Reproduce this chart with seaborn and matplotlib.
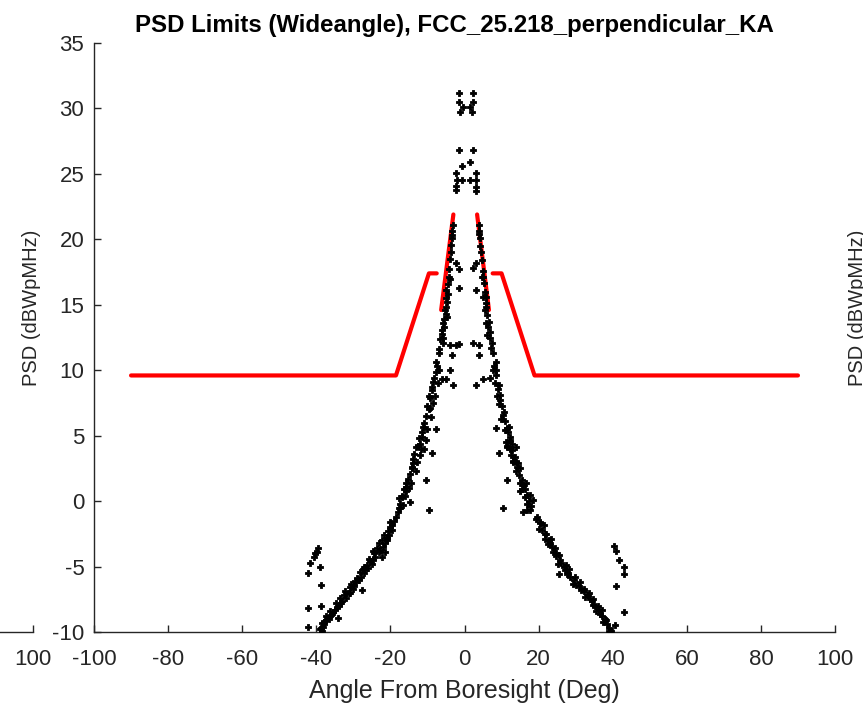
import numpy as np
import pandas as pd
import matplotlib.pyplot as plt
import seaborn as sns

# PSD limit mask (red)
mask_left_x = [-90, -18.5, -9.6, -7.5]
mask_left_y = [9.6, 9.6, 17.4, 17.4]
mask_inner_left_x = [-6.3, -3.0]
mask_inner_left_y = [14.6, 21.9]
mask_inner_right_x = [3.4, 6.6]
mask_inner_right_y = [21.9, 14.6]
mask_right_x = [7.6, 10.0, 18.9, 90]
mask_right_y = [17.4, 17.4, 9.6, 9.6]

# measured PSD points (black)
psd_x = [-1.4, 2.2, -1.6, 2.2, -0.5, 1.6, -1.1, 1.9,
         -1.6, 2.2, -0.8, 1.6, -2.2, 3.0, -1.9, -0.8, 1.6, 3.0, -2.2, 3.0, -2.4, 3.2,
         -3.2, 3.8, -3.3, 3.9, -3.5, 4.1, -3.7, 4.4, -2.4, 3.2, -1.6, 2.4, -4.1, 4.9, -4.3, 5.1,
         -4.9, -1.6, 3.0, -5.1, -4.9, 5.7, 5.9, -4.6, -5.7, -6.2, 6.5, 7.0,
         -5.7, -3.8, -1.6, 2.4, 3.8, 7.3, -7.0, -3.5, 7.8, -7.6, 8.4, -7.8, 8.6, -6.2, 7.0,
         -2.2, 3.8, -3.8, -4.9, -8.4, -3.0, 5.1, 3.2, 9.2, -8.9, -9.2, -9.2, -9.7, 9.7, 10.5,
         -11.1, -7.8, 8.6, 11.4, -11.6, -11.9, -10.3, 12.4, 11.4, -13.0, -8.9, 9.2, 13.2,
         -13.8, -14.3, 14.1, -10.5, 11.4, -15.7, 15.9, -15.9, -17.0, 16.8, -17.3, -14.6,
         -9.7, 10.5, 16.8,
         -15.7, -17.8, -18.6, -20.0, -19.7, 11.9, 11.1, 12.7, 13.8, 13.8, 15.1, 16.5, 15.1,
         18.6, 17.8, 15.9, 19.5, 20.5, -14.3,
         -20.5, -21.4, -24.1, -22.4, -26.8, -29.2, -27.8, -30.8, -33.2, -34.1, -35.4, -37.3,
         -38.1, -38.5, -21.0, -22.0, -23.0, -25.0, -26.0, -28.0, -29.8, -32.0, -34.5, -36.0,
         -37.8, -39.0,
         -39.5, -40.3, -41.6, -38.9, -42.2, -38.6, -42.2, -38.6, -42.2, -39.8, -40.7,
         21.4, 22.7, 24.6, 26.8, 29.5, 32.2, 34.3, 36.2, 38.1, 38.9, 25.4, 22.0, 23.5, 25.8,
         28.0, 31.0, 33.2, 35.3, 37.2, 39.5,
         40.3, 41.0, 41.6, 43.0, 43.0, 41.0, 43.0, 40.5,
         -19.0, -19.5, -20.2, -20.8, -21.5, -22.3, -22.8, -23.6, -24.3, -24.8, -25.5, -26.2,
         -27.0, -27.5, -28.5, -29.0, -30.0, -30.5, -31.3, -32.5, -33.0, -33.8, -35.0, -35.8,
         -36.5, -37.0, -38.0, -38.8,
         19.2, 20.0, 20.8, 21.8, 22.5, 23.0, 24.0, 24.8, 25.3, 26.0, 27.0, 27.6, 28.6, 29.2,
         30.2, 31.5, 32.6, 33.8, 34.8, 35.6, 36.6, 37.5, 38.4, 39.0,
         -18.0, -17.5, -16.8, -16.3, -15.3, -14.8, -14.0, -13.5, -12.6, -12.2, -11.4, -10.8,
         -10.4, -10.0, -9.5, -8.7, -8.2, -7.4,
         18.0, 17.3, 16.2, 15.6, 14.8, 14.4, 13.6, 12.9, 12.2, 11.7, 11.0, 10.6, 10.1, 9.6,
         9.0, 8.4, 8.0,
         -6.8, -6.5, -6.0, -5.4, -5.2, -4.7, -4.5, -3.9, -3.6, -3.4,
         7.2, 6.8, 6.3, 6.0, 5.8, 5.4, 5.2, 4.6, 4.3, 4.0,
         -17.8, -16.5, -15.0, -13.2, -12.0, -11.0, -10.0, -9.0, -8.5, -8.0, -7.2, -6.8,
         -16.0, -14.5, -12.8, -11.8,
         17.6, 16.9, 15.4, 13.9, 12.6, 11.6, 10.8, 9.9, 9.4, 8.8, 8.1, 7.6,
         16.4, 14.9, 13.2, 12.2,
         -20.6, -21.8, -23.2, -24.6, -25.8, -27.2, -28.2, -29.5, -31.0, -32.2, -33.5, -34.8,
         -36.2, -37.5, -38.4,
         20.4, 21.6, 23.3, 24.4, 25.6, 27.3, 28.3, 29.8, 31.2, 32.3, 33.5, 34.6,
         36.0, 37.0, 38.0,
         -5.8, -5.5, -5.0, -4.4, -4.0, 6.2, 5.9, 5.5, 5.0, 4.7]
psd_y = [31.2, 31.2, 30.5, 30.5, 30.1, 30.1, 29.7, 29.7,
         26.8, 26.8, 25.6, 25.9, 25.1, 25.1, 24.5, 24.5, 24.5, 24.5, 24.1, 24.0, 23.8, 23.7,
         21.1, 21.1, 20.6, 20.6, 20.1, 20.1, 19.0, 19.0, 18.2, 18.2, 17.7, 17.8, 17.7, 17.6, 17.1, 17.1,
         16.1, 16.3, 16.1, 15.5, 14.8, 15.6, 14.8, 14.1, 13.6, 12.8, 13.7, 12.9,
         12.1, 11.9, 12.0, 12.1, 11.9, 12.1, 11.3, 11.2, 11.3, 10.6, 10.6, 9.9, 10.0, 9.3, 9.4,
         11.9, 11.2, 10.0, 9.3, 9.1, 8.9, 9.3, 8.9, 8.9, 8.5, 7.9, 7.1, 7.0, 7.7, 6.6,
         5.7, 5.5, 5.6, 5.6, 4.9, 4.4, 4.7, 4.7, 4.1, 4.1, 3.7, 3.7, 3.1,
         2.9, 2.6, 2.6, 1.6, 1.6, 1.4, 1.2, 1.1, 0.3, 0.5, -0.5, -0.1,
         -0.7, -0.5, -0.7,
         0.8, -0.5, -1.2, -1.6, -1.8, 5.7, 4.5, 4.4, 4.1, 3.0, 2.5, 1.4, 0.8,
         0.1, -0.7, -0.8, -1.2, -1.6, 2.5,
         -2.6, -3.9, -4.3, -4.3, -5.3, -6.2, -6.8, -7.0, -7.8, -8.9, -8.5, -9.1,
         -9.6, -9.9, -3.0, -3.5, -3.9, -4.8, -5.1, -5.8, -6.5, -7.4, -8.1, -8.7,
         -9.4, -9.8,
         -3.6, -4.0, -4.7, -5.0, -5.5, -6.4, -8.2, -8.0, -9.6, -3.9, -4.3,
         -1.8, -3.0, -4.0, -5.0, -6.0, -6.9, -7.6, -8.3, -9.1, -9.7, -5.6, -2.5, -3.5, -4.5,
         -5.5, -6.5, -7.2, -8.0, -8.8, -9.9,
         -3.4, -3.8, -4.5, -5.0, -5.6, -6.5, -8.5, -9.5,
         -1.5, -2.2, -2.0, -2.8, -3.2, -3.0, -3.7, -3.6, -4.0, -4.5, -4.6, -4.9,
         -5.5, -5.2, -6.0, -5.9, -6.7, -6.3, -7.0, -7.2, -7.6, -8.0, -8.3, -8.6,
         -9.0, -8.9, -9.2, -9.7,
         -1.4, -2.1, -2.2, -2.9, -3.3, -3.2, -3.9, -4.2, -4.8, -4.7, -5.3, -5.6, -5.8, -6.3,
         -6.4, -6.8, -7.3, -7.5, -7.9, -8.4, -8.6, -9.2, -9.4, -9.9,
         -0.8, -0.2, 0.4, 0.9, 1.7, 2.1, 3.2, 3.6, 4.2, 4.8, 5.3, 6.0,
         6.5, 7.3, 8.0, 8.7, 9.4, 10.3,
         -0.4, 0.0, 0.9, 1.6, 2.0, 2.9, 3.4, 3.9, 4.9, 5.3, 6.1, 6.8, 7.3, 8.1,
         8.6, 9.6, 10.3,
         11.6, 12.4, 13.1, 13.9, 14.6, 15.2, 16.6, 18.5, 19.6, 20.3,
         11.7, 12.5, 13.3, 14.2, 15.1, 16.0, 16.7, 18.4, 19.5, 20.4,
         0.2, -0.3, 1.0, 2.3, 3.5, 4.0, 5.5, 6.4, 7.5, 8.0, 9.0, 10.0,
         0.4, 1.4, 3.0, 4.0,
         0.5, -0.2, 0.9, 2.3, 3.5, 4.2, 5.4, 6.3, 7.4, 8.0, 9.0, 10.0,
         0.3, 1.4, 3.0, 4.0,
         -2.3, -2.6, -3.2, -3.8, -4.4, -5.0, -5.4, -6.1, -6.6, -6.9, -7.4, -7.8,
         -8.4, -8.8, -9.3,
         -1.7, -2.5, -2.9, -3.6, -4.1, -4.9, -5.2, -5.8, -6.2, -6.7, -7.0, -7.5,
         -8.0, -8.3, -9.0,
         12.5, 13.3, 14.3, 15.8, 17.0, 12.7, 13.6, 14.6, 15.6, 17.1]

x_ticks = [-100, -80, -60, -40, -20, 0, 20, 40, 60, 80, 100]
y_ticks = [-10, -5, 0, 5, 10, 15, 20, 25, 30, 35]

sns.set_style("ticks")
plt.rcParams['font.family'] = ['Liberation Sans', 'DejaVu Sans']
plt.rcParams['xtick.direction'] = 'in'
plt.rcParams['ytick.direction'] = 'in'
plt.rcParams['axes.unicode_minus'] = False
dark = '#262626'

W, H = 863, 707
fig = plt.figure(figsize=(W / 100, H / 100), dpi=100)


def style_axes(a):
    a.set_xlim(-100, 100)
    a.set_ylim(-10, 35)
    a.set_xticks(x_ticks)
    a.set_yticks(y_ticks)
    a.set_facecolor('none')
    sns.despine(ax=a)
    for s in ['left', 'bottom']:
        a.spines[s].set_color(dark)
        a.spines[s].set_linewidth(1.0)
    a.tick_params(colors=dark, labelsize=16, length=5, width=1.0)
    a.tick_params(axis='x', pad=12)
    a.tick_params(axis='y', pad=7)


# neighbouring subplots, mostly outside the crop
ax_l = fig.add_axes([(33 - 741) / W, 75 / H, 741 / W, 589 / H])
style_axes(ax_l)
ax_l.set_xticks([100])
ax_l.set_yticks([])
ax_r = fig.add_axes([920 / W, 75 / H, 741 / W, 589 / H])
style_axes(ax_r)
ax_r.set_xticks([])
ax_r.set_yticks([])
ax_r.set_ylabel('PSD (dBWpMHz)', fontsize=14.5, color=dark)
ax_r.yaxis.set_label_coords(-0.0715, 0.55)

ax = fig.add_axes([94 / W, 75 / H, 741 / W, 589 / H])
style_axes(ax)

segments = [(mask_left_x, mask_left_y), (mask_inner_left_x, mask_inner_left_y),
            (mask_inner_right_x, mask_inner_right_y), (mask_right_x, mask_right_y)]
for sx, sy in segments:
    sns.lineplot(x=sx, y=sy, ax=ax, color='red', linewidth=3.0, sort=False,
                 estimator=None, legend=False)

pts = pd.DataFrame({'angle': psd_x, 'psd': psd_y})
sns.scatterplot(data=pts, x='angle', y='psd', ax=ax, color='black', marker='P',
                s=20, linewidth=0.6, edgecolor='black', legend=False, zorder=3)

ax.set_title('PSD Limits (Wideangle), FCC_25.218_perpendicular_KA',
             fontsize=17.3, fontweight='bold', color='black', pad=8, x=0.4865)
ax.set_xlabel('Angle From Boresight (Deg)', fontsize=18, color=dark, labelpad=7)
ax.set_ylabel('PSD (dBWpMHz)', fontsize=14.5, color=dark)
ax.yaxis.set_label_coords(-0.0715, 0.55)

fig.savefig('out.png', dpi=100)
